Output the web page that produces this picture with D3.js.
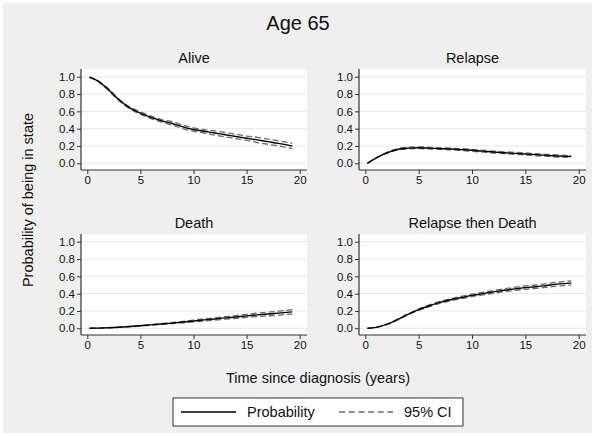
<!DOCTYPE html>
<html>
<head>
<meta charset="utf-8">
<script src="https://cdn.jsdelivr.net/npm/d3@7"></script>
<style>
  body { margin: 0; background: #fff; }
  text { font-family: "Liberation Sans", Arial, sans-serif; fill: #111; }
</style>
</head>
<body>
<div id="chart"></div>
<script>
// time points (years since diagnosis)
const times = [0.2, 1, 2, 3, 4, 5, 6, 7, 8, 9, 10, 11, 12, 13, 14, 15, 16, 17, 18, 19.3];

// predicted probabilities, with 95% CI
const aliveProb  = [0.995, 0.95, 0.85, 0.73, 0.64, 0.58, 0.53, 0.49, 0.46, 0.42, 0.39, 0.37, 0.35, 0.33, 0.31, 0.29, 0.27, 0.25, 0.23, 0.20];
const aliveLow   = [0.995, 0.945, 0.84, 0.72, 0.63, 0.565, 0.515, 0.475, 0.44, 0.40, 0.37, 0.35, 0.325, 0.305, 0.285, 0.265, 0.24, 0.22, 0.20, 0.17];
const aliveHigh  = [0.995, 0.955, 0.86, 0.74, 0.65, 0.595, 0.545, 0.505, 0.48, 0.44, 0.41, 0.39, 0.375, 0.355, 0.335, 0.315, 0.30, 0.28, 0.26, 0.23];

const relapseProb = [0.0, 0.06, 0.12, 0.16, 0.175, 0.18, 0.175, 0.17, 0.165, 0.158, 0.15, 0.14, 0.13, 0.122, 0.115, 0.108, 0.10, 0.092, 0.085, 0.078];
const relapseLow  = [0.0, 0.058, 0.115, 0.152, 0.165, 0.17, 0.165, 0.16, 0.155, 0.147, 0.139, 0.129, 0.119, 0.111, 0.103, 0.096, 0.088, 0.08, 0.073, 0.066];
const relapseHigh = [0.0, 0.062, 0.125, 0.168, 0.185, 0.19, 0.185, 0.18, 0.175, 0.169, 0.161, 0.151, 0.141, 0.133, 0.127, 0.12, 0.112, 0.104, 0.097, 0.09];

const deathProb = [0.0, 0.002, 0.006, 0.012, 0.02, 0.03, 0.04, 0.05, 0.06, 0.072, 0.085, 0.097, 0.108, 0.12, 0.131, 0.143, 0.155, 0.165, 0.175, 0.19];
const deathLow  = [0.0, 0.002, 0.005, 0.01, 0.017, 0.026, 0.035, 0.044, 0.053, 0.064, 0.075, 0.085, 0.095, 0.105, 0.115, 0.125, 0.135, 0.144, 0.152, 0.165];
const deathHigh = [0.0, 0.002, 0.007, 0.014, 0.023, 0.034, 0.045, 0.056, 0.067, 0.08, 0.095, 0.109, 0.121, 0.135, 0.147, 0.161, 0.175, 0.186, 0.198, 0.215];

const rtdProb = [0.0, 0.01, 0.045, 0.10, 0.16, 0.215, 0.26, 0.30, 0.33, 0.355, 0.38, 0.40, 0.42, 0.44, 0.455, 0.47, 0.48, 0.495, 0.51, 0.525];
const rtdLow  = [0.0, 0.01, 0.043, 0.096, 0.154, 0.207, 0.25, 0.289, 0.318, 0.342, 0.366, 0.385, 0.404, 0.423, 0.437, 0.451, 0.46, 0.474, 0.488, 0.502];
const rtdHigh = [0.0, 0.01, 0.047, 0.104, 0.166, 0.223, 0.27, 0.311, 0.342, 0.368, 0.394, 0.415, 0.436, 0.457, 0.473, 0.489, 0.5, 0.516, 0.532, 0.548];

const panelTitles = ["Alive", "Relapse", "Death", "Relapse then Death"];
const panelData = [
  [aliveProb, aliveLow, aliveHigh],
  [relapseProb, relapseLow, relapseHigh],
  [deathProb, deathLow, deathHigh],
  [rtdProb, rtdLow, rtdHigh]
];
const xTicks = [0, 5, 10, 15, 20];
const yTicks = [0, 0.2, 0.4, 0.6, 0.8, 1.0];

const width = 595, height = 436;

const svg = d3.select("#chart").append("svg")
  .attr("width", width)
  .attr("height", height);

// outer region with thin white border
svg.append("rect").attr("width", width).attr("height", height).attr("fill", "#fff");
svg.append("rect").attr("x", 3).attr("y", 3)
  .attr("width", width - 6).attr("height", height - 6).attr("fill", "#efefef");

// plot boxes: [left, top, right, bottom]
const cols = [[81, 307], [359, 586]];
const rows = [[69, 170], [234, 335]];

panelTitles.forEach((title, i) => {
  const [x0, x1] = cols[i % 2];
  const [y0, y1] = rows[Math.floor(i / 2)];

  const x = d3.scaleLinear().domain([0, 20]).range([x0 + 6.3, x1 - 7.3]);
  const y = d3.scaleLinear().domain([0, 1]).range([y1 - 6.7, y0 + 7.7]);

  const g = svg.append("g");

  g.append("rect")
    .attr("x", x0).attr("y", y0)
    .attr("width", x1 - x0).attr("height", y1 - y0)
    .attr("fill", "#fff");

  // gridlines
  g.selectAll(".grid").data(yTicks).join("line")
    .attr("x1", x0).attr("x2", x1)
    .attr("y1", d => y(d)).attr("y2", d => y(d))
    .attr("stroke", "#e8e8e8").attr("stroke-width", 1);

  const yAxis = g.append("g")
    .attr("transform", `translate(${x0},0)`)
    .call(d3.axisLeft(y).tickValues(yTicks).tickFormat(d3.format(".1f")).tickSize(4).tickPadding(2));
  const xAxis = g.append("g")
    .attr("transform", `translate(0,${y1})`)
    .call(d3.axisBottom(x).tickValues(xTicks).tickSize(4).tickPadding(2));

  [xAxis, yAxis].forEach(ax => {
    ax.select(".domain").remove();
    ax.selectAll("line").attr("stroke", "#333");
    ax.selectAll("text").attr("font-size", 11.5).attr("fill", "#111")
      .style("font-family", "'Liberation Sans', Arial, sans-serif");
  });
  g.append("line").attr("x1", x0).attr("x2", x1).attr("y1", y1).attr("y2", y1)
    .attr("stroke", "#333").attr("stroke-width", 1.2);
  g.append("line").attr("x1", x0).attr("x2", x0).attr("y1", y0).attr("y2", y1)
    .attr("stroke", "#333").attr("stroke-width", 1.2);

  const line = d3.line()
    .x(d => x(d[0]))
    .y(d => y(d[1]))
    .curve(d3.curveMonotoneX);

  const [prob, low, high] = panelData[i];
  [low, high].forEach(s => {
    g.append("path")
      .datum(times.map((t, k) => [t, s[k]]))
      .attr("d", line)
      .attr("fill", "none")
      .attr("stroke", "#6a6a6a")
      .attr("stroke-width", 1.3)
      .attr("stroke-dasharray", "6,3");
  });
  g.append("path")
    .datum(times.map((t, k) => [t, prob[k]]))
    .attr("d", line)
    .attr("fill", "none")
    .attr("stroke", "#000")
    .attr("stroke-width", 1.4);

  g.append("text")
    .attr("x", (x0 + x1) / 2)
    .attr("y", y0 - 6)
    .attr("text-anchor", "middle")
    .attr("font-size", 14.5)
    .text(title);
});

// main title
svg.append("text")
  .attr("x", 298).attr("y", 30)
  .attr("text-anchor", "middle")
  .attr("font-size", 20)
  .text("Age 65");

// axis titles
svg.append("text")
  .attr("transform", "translate(33,200) rotate(-90)")
  .attr("text-anchor", "middle")
  .attr("font-size", 14.5)
  .text("Probability of being in state");

svg.append("text")
  .attr("x", 318).attr("y", 383)
  .attr("text-anchor", "middle")
  .attr("font-size", 14.5)
  .text("Time since diagnosis (years)");

// legend
const legend = svg.append("g");
legend.append("rect")
  .attr("x", 173).attr("y", 398).attr("width", 290).attr("height", 28)
  .attr("fill", "#fff").attr("stroke", "#333").attr("stroke-width", 1);
legend.append("line")
  .attr("x1", 181).attr("x2", 236).attr("y1", 412).attr("y2", 412)
  .attr("stroke", "#000").attr("stroke-width", 1.4);
legend.append("text")
  .attr("x", 247).attr("y", 417).attr("font-size", 14.5)
  .text("Probability");
legend.append("line")
  .attr("x1", 339).attr("x2", 393).attr("y1", 412).attr("y2", 412)
  .attr("stroke", "#222").attr("stroke-width", 1.1)
  .attr("stroke-dasharray", "6,3.7");
legend.append("text")
  .attr("x", 404).attr("y", 417).attr("font-size", 14.5)
  .text("95% CI");
</script>
</body>
</html>
